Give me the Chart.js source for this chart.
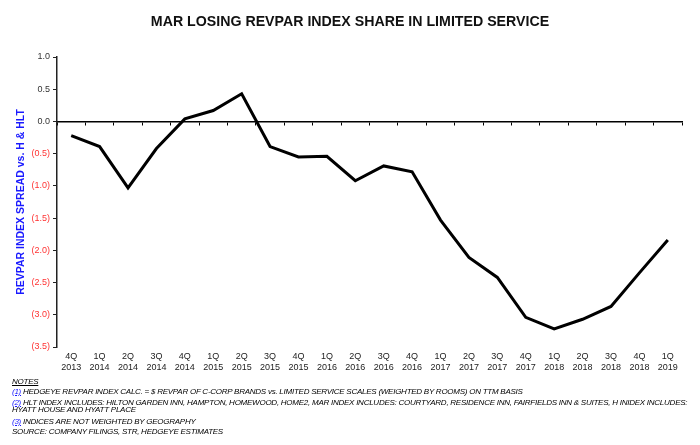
<!DOCTYPE html>
<html>
<head>
<meta charset="utf-8">
<script src="https://cdn.jsdelivr.net/npm/chart.js@4"></script>
<style>
  body { margin: 0; background: #fff; width: 700px; height: 445px; position: relative; overflow: hidden; }
  #wrap { position: absolute; left: 0; top: 0; width: 700px; height: 378px; }
  #title { position: absolute; left: 0; top: 13px; width: 700px; text-align: center; font-family: "Liberation Sans", Arial, sans-serif; font-weight: bold; font-size: 14.2px; color: #111; }
  .note { position: absolute; left: 12px; font-family: "Liberation Sans", Arial, sans-serif; font-style: italic; font-size: 8px; color: #000; white-space: nowrap; letter-spacing: -0.25px; line-height: 6.5px; }
  .num { color: #1a1aff; text-decoration: underline; }
</style>
</head>
<body>
<div id="wrap"><canvas id="chart"></canvas></div>
<div id="title">MAR LOSING REVPAR INDEX SHARE IN LIMITED SERVICE</div>

<div class="note" style="top:379px;"><span style="text-decoration:underline;">NOTES</span></div>
<div class="note" style="top:389px;"><span class="num">(1)</span> HEDGEYE REVPAR INDEX CALC. = $ REVPAR OF C-CORP BRANDS vs. LIMITED SERVICE SCALES (WEIGHTED BY ROOMS) ON TTM BASIS</div>
<div class="note" style="top:400px;"><span class="num">(2)</span> HLT INDEX INCLUDES: HILTON GARDEN INN, HAMPTON, HOMEWOOD, HOME2, MAR INDEX INCLUDES: COURTYARD, RESIDENCE INN, FAIRFIELDS INN &amp; SUITES, H INIDEX INCLUDES:<br>HYATT HOUSE AND HYATT PLACE</div>
<div class="note" style="top:419px;"><span class="num">(3)</span> INDICES ARE NOT WEIGHTED BY GEOGRAPHY</div>
<div class="note" style="top:429px;">SOURCE: COMPANY FILINGS, STR, HEDGEYE ESTIMATES</div>

<script>
// ------------------------
// Data
// ------------------------
const quarterNames = ['4Q', '1Q', '2Q', '3Q', '4Q', '1Q', '2Q', '3Q', '4Q', '1Q', '2Q', '3Q',
    '4Q', '1Q', '2Q', '3Q', '4Q', '1Q', '2Q', '3Q', '4Q', '1Q'];
const years = ['2013', '2014', '2014', '2014', '2014', '2015', '2015', '2015', '2015', '2016', '2016', '2016',
    '2016', '2017', '2017', '2017', '2017', '2018', '2018', '2018', '2018', '2019'];
const spread = [-0.22, -0.39, -1.03, -0.42, 0.04, 0.17, 0.43, -0.39, -0.55, -0.54, -0.92,
    -0.69, -0.78, -1.53, -2.11, -2.42, -3.04, -3.22, -3.07, -2.87, -2.35, -1.84];
const yMin = -3.5;
const yMax = 1.0;
const yStep = 0.5;

const labels = quarterNames.map((q, i) => [q, years[i]]);

// negative numbers shown in parentheses, red
function fmtTick(v) {
    const s = Math.abs(v).toFixed(1);
    return v < -0.001 ? '(' + s + ')' : s;
}

const fontFam = '"Liberation Sans", Arial, sans-serif';

new Chart(document.getElementById('chart'), {
    type: 'line',
    data: {
        labels: labels,
        datasets: [{
            data: spread,
            borderColor: '#000',
            borderWidth: 3,
            pointRadius: 0,
            tension: 0,
            fill: false,
            xAxisID: 'x'
        }]
    },
    options: {
        responsive: true,
        maintainAspectRatio: false,
        animation: false,
        layout: { padding: { left: 0, right: 18, top: 57, bottom: 0 } },
        plugins: {
            legend: { display: false },
            tooltip: { enabled: false }
        },
        scales: {
            x: {
                type: 'category',
                position: 'bottom',
                offset: true,
                border: { display: false },
                grid: { display: false, drawTicks: false },
                ticks: {
                    color: '#222',
                    font: { family: fontFam, size: 9 },
                    padding: 4,
                    maxRotation: 0,
                    autoSkip: false
                },
                afterFit: s => { s.height = 31; }
            },
            x0: {
                type: 'category',
                labels: labels,
                position: { y: 0 },
                offset: true,
                border: { display: true, color: '#000', width: 1.5 },
                grid: { drawOnChartArea: false, drawTicks: true, tickLength: 3, color: '#000', offset: true },
                ticks: { display: false }
            },
            y: {
                min: yMin,
                max: yMax,
                border: { display: true, color: '#222', width: 1.5 },
                grid: { drawOnChartArea: false, drawTicks: true, tickLength: 4, color: '#222' },
                ticks: {
                    stepSize: yStep,
                    padding: 3,
                    font: { family: fontFam, size: 9 },
                    color: ctx => (ctx.tick.value < -0.001 ? '#ff3333' : '#333'),
                    callback: v => fmtTick(v)
                },
                title: {
                    display: true,
                    text: 'REVPAR INDEX SPREAD vs. H & HLT',
                    color: '#1a1aff',
                    font: { family: fontFam, size: 10.5, weight: 'bold' },
                    padding: { top: 15, bottom: 0 }
                },
                afterFit: s => { s.width = 57; }
            }
        }
    }
});
</script>
</body>
</html>
